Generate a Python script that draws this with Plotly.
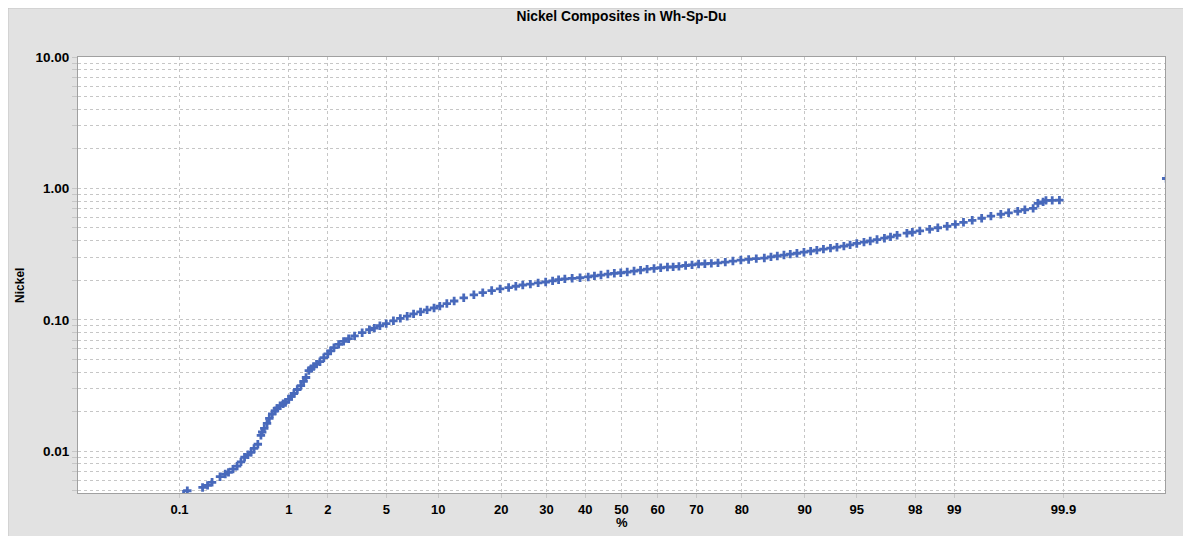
from statistics import NormalDist
import plotly.graph_objects as go

# cumulative percent (probability scale) and nickel grade
pct = [
    0.11, 0.12, 0.17, 0.19, 0.21, 0.25, 0.28, 0.30, 0.33, 0.36, 0.39, 0.42, 0.45, 0.48,
    0.51, 0.55, 0.585, 0.60, 0.625, 0.66, 0.69, 0.73, 0.77, 0.80, 0.85, 0.90, 0.94,
    1.00, 1.05, 1.10, 1.17, 1.25, 1.31, 1.37, 1.44, 1.50, 1.57, 1.65, 1.75, 1.87,
    2.0, 2.1, 2.22, 2.4, 2.6, 2.82, 3.1, 3.49, 3.9, 4.2, 4.56, 5.0, 5.54, 6.1, 6.7,
    7.3, 8.0, 8.7, 9.5, 10.2, 11.1, 12.1, 13.5, 15.1, 16.6, 18.2, 19.8,
    21.5, 23.0, 24.5, 26.2, 28.0, 29.8, 31.5, 33.0, 34.6, 36.5, 38.6, 40.8, 42.5,
    44.3, 46.2, 48.0, 49.8, 51.6, 53.5, 55.3, 57.1, 59.0, 60.8, 62.6, 64.1, 65.6,
    67.3, 68.9, 70.5, 72.0, 73.5, 75.0, 76.6, 78.2, 79.8, 81.3, 82.7, 84.1, 85.2,
    86.2, 87.2, 88.1, 89.0, 89.9, 90.7, 91.4, 92.1, 92.8, 93.4, 94.0, 94.5, 95.0,
    95.5, 95.9, 96.3, 96.7, 97.0, 97.3, 97.7, 97.9, 98.15, 98.44, 98.65, 98.86,
    99.02, 99.16, 99.29, 99.41, 99.51, 99.60, 99.66, 99.72, 99.76, 99.80, 99.82,
    99.84, 99.85, 99.87, 99.89, 99.993,
]
nickel = [
    0.0047, 0.0050, 0.0053, 0.0055, 0.0058, 0.0064, 0.0067, 0.0069, 0.0073, 0.0077,
    0.0083, 0.0090, 0.0094, 0.0098, 0.0105, 0.0113, 0.0132, 0.0140, 0.0149, 0.0163,
    0.0178, 0.0192, 0.0203, 0.0212, 0.0222, 0.0230, 0.0235, 0.0248, 0.0262, 0.0275,
    0.0295, 0.0316, 0.0340, 0.0364, 0.0411, 0.0425, 0.0441, 0.0460, 0.0480, 0.0515,
    0.0550, 0.0580, 0.0614, 0.0650, 0.0685, 0.0718, 0.0755, 0.0798, 0.0840, 0.0865,
    0.0901, 0.0935, 0.0983, 0.1025, 0.1065, 0.111, 0.115, 0.119, 0.123, 0.127, 0.133,
    0.139, 0.147, 0.155, 0.161, 0.167, 0.172,
    0.176, 0.180, 0.184, 0.187, 0.191, 0.194, 0.198, 0.202, 0.205, 0.207, 0.209,
    0.212, 0.216, 0.219, 0.223, 0.226, 0.228, 0.231, 0.235, 0.239, 0.243, 0.246,
    0.249, 0.252, 0.253, 0.255, 0.259, 0.262, 0.266, 0.267, 0.269, 0.271, 0.275,
    0.280, 0.285, 0.288, 0.292, 0.295, 0.301, 0.306, 0.311, 0.316, 0.321, 0.327,
    0.333, 0.339, 0.345, 0.351, 0.357, 0.364, 0.372, 0.381, 0.390, 0.398, 0.408,
    0.418, 0.428, 0.440, 0.456, 0.464, 0.475, 0.489, 0.502, 0.515, 0.532, 0.552,
    0.572, 0.593, 0.615, 0.636, 0.652, 0.670, 0.688, 0.705, 0.770, 0.790, 0.811,
    0.811, 0.815, 1.19,
]

x_ticks = [0.1, 1, 2, 5, 10, 20, 30, 40, 50, 60, 70, 80, 90, 95, 98, 99, 99.9]
x_tick_labels = ["0.1", "1", "2", "5", "10", "20", "30", "40", "50", "60", "70",
                 "80", "90", "95", "98", "99", "99.9"]
y_decades = [0.01, 0.1, 1, 10]
y_decade_labels = ["0.01", "0.10", "1.00", "10.00"]

nd = NormalDist()
def z(p):
    return nd.inv_cdf(p / 100.0)

# every 1..9 multiple gets a dotted grid line, only decades get a label
y_vals = [0.005, 0.006, 0.007, 0.008, 0.009]
y_text = ["", "", "", "", ""]
for d, lab in zip(y_decades, y_decade_labels):
    for k in range(1, 10):
        v = round(k * d, 6)
        if v > 10:
            break
        y_vals.append(v)
        y_text.append(lab if k == 1 else "")

FONT = "Liberation Sans, Arial, sans-serif"
GRID = "#c6c6c6"
PW, PH = 1087, 436  # plot area size in px

fig = go.Figure(go.Scatter(
    x=[z(p) for p in pct],
    y=nickel,
    mode="markers",
    marker=dict(symbol="cross", size=7, color="#4869bb", line=dict(width=0)),
    hoverinfo="skip",
))

# page body keeps its default 8px margin, which gives the white strip top/left
fig.update_layout(
    width=1183, height=528,
    margin=dict(l=70, r=26, t=49, b=43),
    paper_bgcolor="#e2e2e2",
    plot_bgcolor="white",
    showlegend=False,
    font=dict(family=FONT, size=13, color="black"),
    title=dict(text="<b>Nickel Composites in Wh-Sp-Du</b>", x=0.5, xref="paper",
               y=0.985, yref="container", yanchor="middle",
               font=dict(size=13.8, family=FONT)),
    xaxis=dict(
        range=[-3.8, 3.8],
        tickvals=[z(p) for p in x_ticks], ticktext=["<b>%s</b>" % t for t in x_tick_labels],
        showgrid=True, gridcolor=GRID, griddash="dot", gridwidth=1,
        ticks="outside", ticklen=4, tickcolor=GRID,
        showline=True, linecolor="#a0a0a0", mirror=True, zeroline=False,
    ),
    yaxis=dict(
        type="log",
        range=[-2.318, 1.0],
        tickvals=y_vals, ticktext=["<b>%s</b>" % t if t else "" for t in y_text],
        tickfont=dict(size=13.5),
        showgrid=True, gridcolor=GRID, griddash="dot", gridwidth=1,
        ticks="outside", ticklen=5, tickcolor=GRID,
        showline=True, linecolor="#a0a0a0", mirror=True, zeroline=False,
    ),
    shapes=[dict(type="rect", xref="paper", yref="paper", layer="below",
                 x0=-70 / PW, x1=1.2, y0=-0.3, y1=1 + 49 / PH,
                 line=dict(color="#c4c4c4", width=1))],
    annotations=[
        dict(text="<b>Nickel</b>", xref="paper", yref="paper", x=-58 / PW, y=0.475,
             xanchor="center", yanchor="middle",
             textangle=-90, showarrow=False, font=dict(size=12)),
        dict(text="<b>%</b>", xref="paper", yref="paper", x=0.5, y=-29 / PH,
             xanchor="center", yanchor="middle",
             showarrow=False, font=dict(size=13)),
    ],
)

fig.write_html("out.html", config={"displayModeBar": False})
